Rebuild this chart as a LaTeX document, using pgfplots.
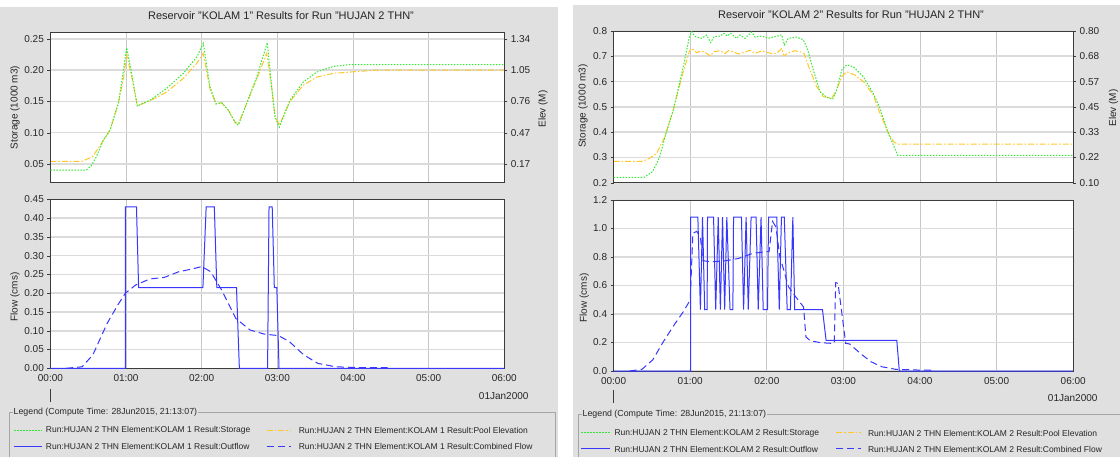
\documentclass[border=0pt]{standalone}
\usepackage{fontspec}
\setmainfont{Liberation Sans}
\usepackage{pgfplots}
\pgfplotsset{compat=1.18}

\definecolor{panel}{RGB}{224,224,224}
\definecolor{frame}{RGB}{60,60,60}
\definecolor{legline}{RGB}{165,165,165}
\definecolor{stor}{RGB}{50,235,50}
\definecolor{pool}{RGB}{255,200,40}
\definecolor{flow}{RGB}{55,55,255}

\tikzset{
  storage/.style={color=stor, line width=1pt, dash pattern=on 1.5pt off 1.5pt},
  poolelev/.style={color=pool, line width=1pt, dash pattern=on 6pt off 2pt on 1.5pt off 2pt},
  outflow/.style={color=flow, line width=1pt},
  combined/.style={color=flow, line width=1pt, dash pattern=on 7pt off 4pt},
  legtext/.style={anchor=west, inner sep=0pt, text=black!85, font=\fontsize{8.5}{10}\selectfont},
}
\pgfplotsset{
  hms/.style={
    scale only axis, anchor=south west,
    xmin=0, xmax=6, xtick={0,1,2,3,4,5,6},
    tick align=outside, major tick length=3pt,
    axis line style={frame}, ytick style={frame},
    xtick style={draw=none},
    tick label style={font=\fontsize{10}{12}\selectfont, text=black!85},
    /pgf/number format/assume math mode=true,
    clip=false,
  },
  gridded/.style={
    axis background/.style={fill=white},
    xmajorgrids, ymajorgrids,
    every axis x grid/.append style={black!22, line width=0.8pt},
    every axis y grid/.append style={black!14, line width=1.6pt},
  },
  notime/.style={xticklabels={}},
  time/.style={xticklabels={00:00,01:00,02:00,03:00,04:00,05:00,06:00}},
}

\begin{document}
\fontsize{10}{12}\selectfont
\begin{tikzpicture}[x=1pt,y=1pt]
\path[use as bounding box] (0,0) rectangle (1120,-457);
\fill[white] (0,0) rectangle (1120,-457);
\fill[panel] (0,-7) rectangle (558,-457);
\fill[panel] (573,-5) rectangle (1120,-457);

% legend frames and samples
\draw[legline] (9.6,-460) -- (9.6,-412.3) -- (555.4,-412.3) -- (555.4,-460);
\draw[legline] (577.9,-460) -- (577.9,-414.5) -- (1125,-414.5);
\draw[storage] (14.3,-430) -- (41.8,-430);
\draw[poolelev] (266.8,-430) -- (291,-430);
\draw[outflow] (14.3,-446) -- (41.8,-446);
\draw[combined] (266.8,-446) -- (291,-446);
\draw[storage] (581,-432) -- (610,-432);
\draw[poolelev] (836,-432) -- (860.7,-432);
\draw[outflow] (581,-448) -- (610,-448);
\draw[combined] (836,-448) -- (860.7,-448);

% ---------------- KOLAM 1 ----------------
\node[font=\fontsize{11}{13}\selectfont, text=black!85] at (281,-15.5) {Reservoir "KOLAM 1" Results for Run "HUJAN 2 THN"};

% elevation (right)
\begin{axis}[hms, gridded, notime, at={(50.4pt,-182.7pt)}, width=453.9pt, height=150pt,
  ymin=-0.0055, ymax=1.3985,
  ytick={0.17,0.4625,0.755,1.0475,1.34}, yticklabels={0.17,0.47,0.76,1.05,1.34},
  ytick pos=right, yticklabel pos=right]
\addplot[poolelev] coordinates {
 (0,0.195) (0.42,0.195) (0.56,0.240) (0.70,0.392) (0.788,0.486) (0.898,0.737)
 (0.97,0.989) (1.008,1.188) (1.074,0.989) (1.149,0.714) (1.317,0.761) (1.537,0.843)
 (1.757,0.971) (1.934,1.112) (2.021,1.205) (2.11,0.872) (2.189,0.732) (2.264,0.743)
 (2.352,0.673) (2.44,0.562) (2.484,0.544) (2.595,0.737) (2.727,0.966) (2.86,1.205)
 (2.925,0.890) (2.969,0.620) (3.026,0.533) (3.167,0.755) (3.343,0.907) (3.52,0.983)
 (3.74,1.018) (3.96,1.030) (4.3,1.0475) (6,1.0475)};
\end{axis}
% storage (left)
\begin{axis}[hms, notime, at={(50.4pt,-182.7pt)}, width=453.9pt, height=150pt,
  ymin=0.02, ymax=0.26, ytick={0.05,0.10,0.15,0.20,0.25},
  yticklabel style={/pgf/number format/.cd, fixed, fixed zerofill, precision=2},
  ytick pos=left]
\addplot[storage] coordinates {
 (0,0.04) (0.47,0.04) (0.54,0.047) (0.61,0.062) (0.70,0.088) (0.788,0.104) (0.898,0.147)
 (0.96,0.195) (1.008,0.236) (1.074,0.195) (1.149,0.143) (1.317,0.152) (1.537,0.171)
 (1.757,0.195) (1.934,0.221) (2.021,0.243) (2.11,0.173) (2.189,0.146) (2.264,0.148)
 (2.352,0.136) (2.44,0.117) (2.484,0.112) (2.595,0.147) (2.727,0.189) (2.867,0.244)
 (2.925,0.173) (2.969,0.125) (3.026,0.109) (3.167,0.152) (3.343,0.181) (3.52,0.197)
 (3.74,0.206) (3.96,0.209) (6,0.209)};
\end{axis}
\node[rotate=90, text=black!85] at (15,-107.5) {Storage (1000 m3)};
\node[rotate=90, text=black!85] at (543,-109) {Elev (M)};

% flow
\begin{axis}[hms, gridded, time, at={(50.4pt,-368.3pt)}, width=453.9pt, height=169pt,
  ymin=0, ymax=0.45,
  ytick={0,0.05,0.10,0.15,0.20,0.25,0.30,0.35,0.40,0.45},
  yticklabel style={/pgf/number format/.cd, fixed, fixed zerofill, precision=2},
  ytick pos=left]
\addplot[outflow] coordinates {
 (0,0) (0.991,0) (0.991,0.43) (1.138,0.43) (1.166,0.215) (2.016,0.215) (2.059,0.43)
 (2.167,0.43) (2.20,0.215) (2.46,0.215) (2.498,0) (2.871,0) (2.89,0.43) (2.932,0.43)
 (2.96,0.215) (2.993,0.215) (3.022,0) (6,0)};
\addplot[combined] coordinates {
 (0.208,0) (0.42,0.004) (0.562,0.036) (0.751,0.12) (0.892,0.169) (0.991,0.20)
 (1.128,0.222) (1.317,0.238) (1.506,0.242) (1.695,0.257) (1.884,0.265) (2.002,0.271)
 (2.12,0.257) (2.262,0.209) (2.45,0.133) (2.639,0.102) (2.828,0.091) (3.017,0.087)
 (3.159,0.071) (3.348,0.036) (3.536,0.013) (3.772,0.004) (4.056,0.002) (4.457,0.002)};
\end{axis}
\node[rotate=90, text=black!85] at (15,-297) {Flow (cms)};
\node[anchor=east, text=black!85] at (532,-395.7) {01Jan2000};
\draw[frame] (50.4,-389) -- (50.4,-402);

% ---------------- KOLAM 2 ----------------
\node[font=\fontsize{11}{13}\selectfont, text=black!85] at (851,-15) {Reservoir "KOLAM 2" Results for Run "HUJAN 2 THN"};

\begin{axis}[hms, gridded, notime, at={(613.6pt,-182.7pt)}, width=459.6pt, height=151.7pt,
  ymin=0.10, ymax=0.80,
  ytick={0.10,0.216667,0.333333,0.45,0.566667,0.683333,0.80},
  yticklabels={0.10,0.22,0.33,0.45,0.57,0.68,0.80},
  ytick pos=right, yticklabel pos=right]
\addplot[poolelev] coordinates {
 (0,0.198) (0.37,0.198) (0.46,0.211) (0.56,0.235) (0.67,0.312) (0.78,0.438) (0.91,0.613)
 (0.99,0.707) (1.02,0.720) (1.085,0.700) (1.150,0.709) (1.215,0.696) (1.267,0.685)
 (1.302,0.704) (1.389,0.709) (1.454,0.696) (1.498,0.709) (1.563,0.704) (1.628,0.694)
 (1.694,0.700) (1.781,0.711) (1.846,0.696) (1.933,0.709) (2.020,0.700) (2.085,0.694)
 (2.151,0.704) (2.194,0.720) (2.225,0.685) (2.281,0.700) (2.368,0.709) (2.434,0.704)
 (2.486,0.696) (2.564,0.620) (2.651,0.543) (2.738,0.497) (2.847,0.490) (2.912,0.528)
 (2.978,0.589) (3.043,0.612) (3.151,0.597) (3.260,0.567) (3.390,0.505) (3.47,0.427)
 (3.58,0.333) (3.66,0.287) (3.71,0.2785) (6,0.2785)};
\end{axis}
\begin{axis}[hms, notime, at={(613.6pt,-182.7pt)}, width=459.6pt, height=151.7pt,
  ymin=0.2, ymax=0.8, ytick={0.2,0.3,0.4,0.5,0.6,0.7,0.8},
  yticklabel style={/pgf/number format/.cd, fixed, fixed zerofill, precision=1},
  ytick pos=left]
\addplot[storage] coordinates {
 (0,0.221) (0.40,0.221) (0.51,0.244) (0.60,0.30) (0.671,0.382) (0.78,0.488) (0.91,0.659)
 (0.99,0.778) (1.02,0.797) (1.063,0.778) (1.150,0.771) (1.215,0.784) (1.267,0.754)
 (1.311,0.778) (1.389,0.780) (1.441,0.791) (1.485,0.780) (1.528,0.791) (1.607,0.771)
 (1.650,0.784) (1.715,0.771) (1.803,0.796) (1.846,0.776) (1.933,0.780) (2.020,0.771)
 (2.085,0.776) (2.138,0.780) (2.194,0.785) (2.229,0.745) (2.281,0.771) (2.390,0.776)
 (2.477,0.765) (2.529,0.731) (2.607,0.646) (2.695,0.560) (2.782,0.538) (2.860,0.530)
 (2.912,0.567) (2.978,0.646) (3.043,0.666) (3.129,0.659) (3.260,0.619) (3.390,0.553)
 (3.47,0.50) (3.58,0.40) (3.71,0.308) (6,0.308)};
\end{axis}
\node[rotate=90, text=black!85] at (583,-106) {Storage (1000 m3)};
\node[rotate=90, text=black!85] at (1113.6,-108) {Elev (M)};

\begin{axis}[hms, gridded, time, at={(613.6pt,-371pt)}, width=459.6pt, height=171pt,
  ymin=0, ymax=1.2, ytick={0,0.2,0.4,0.6,0.8,1.0,1.2},
  yticklabel style={/pgf/number format/.cd, fixed, fixed zerofill, precision=1},
  ytick pos=left]
\addplot[outflow] coordinates {
 (0,0) (1.007,0) (1.007,1.08) (1.10,1.08) (1.133,0.43) (1.161,1.08) (1.189,0.43)
 (1.221,0.43) (1.226,1.08) (1.305,1.08) (1.333,0.43) (1.366,1.08) (1.394,0.43)
 (1.422,1.08) (1.45,0.43) (1.478,1.08) (1.52,0.43) (1.557,0.43) (1.566,1.08)
 (1.669,1.08) (1.697,0.43) (1.73,1.08) (1.758,0.43) (1.795,1.08) (1.86,1.08)
 (1.888,0.43) (1.925,1.08) (1.953,0.43) (2.009,0.43) (2.023,1.08) (2.13,1.08)
 (2.163,0.43) (2.191,1.08) (2.228,1.08) (2.266,0.43) (2.308,0.43) (2.34,1.08)
 (2.364,0.43) (2.727,0.43) (2.774,0.215) (3.697,0.215) (3.73,0) (6,0)};
\addplot[combined] coordinates {
 (0.21,0) (0.37,0.012) (0.51,0.077) (0.65,0.206) (0.79,0.323) (0.91,0.416) (1.0,0.498)
 (1.035,0.966) (1.086,0.98) (1.133,0.94) (1.166,0.774) (1.26,0.767) (1.445,0.772)
 (1.632,0.79) (1.82,0.826) (2.0,0.837) (2.03,0.837) (2.075,1.05) (2.12,1.01) (2.17,0.80)
 (2.215,0.72) (2.284,0.59) (2.378,0.52) (2.46,0.463) (2.48,0.45) (2.51,0.24) (2.564,0.213)
 (2.7,0.199) (2.844,0.194) (2.88,0.194) (2.9,0.62) (2.93,0.615) (2.98,0.405) (3.03,0.194)
 (3.08,0.19) (3.22,0.124) (3.36,0.065) (3.50,0.03) (3.68,0.012) (3.96,0.007) (4.17,0.005)};
\end{axis}
\node[rotate=90, text=black!85] at (584.3,-298) {Flow (cms)};
\node[anchor=east, text=black!85] at (1101,-398.3) {01Jan2000};
\draw[frame] (613.6,-390) -- (613.6,-403);

% legend texts
\node[anchor=west, fill=panel, inner xsep=1pt, inner ysep=0.5pt, text=black!85, font=\fontsize{8.8}{10}\selectfont] at (12.5,-412.3) {Legend (Compute Time: 28Jun2015, 21:13:07)};
\node[legtext] at (45.7,-430) {Run:HUJAN 2 THN Element:KOLAM 1 Result:Storage};
\node[legtext] at (298.6,-430) {Run:HUJAN 2 THN Element:KOLAM 1 Result:Pool Elevation};
\node[legtext] at (45.7,-446) {Run:HUJAN 2 THN Element:KOLAM 1 Result:Outflow};
\node[legtext] at (298.6,-446) {Run:HUJAN 2 THN Element:KOLAM 1 Result:Combined Flow};
\node[anchor=west, fill=panel, inner xsep=1pt, inner ysep=0.5pt, text=black!85, font=\fontsize{8.8}{10}\selectfont] at (581.5,-414.5) {Legend (Compute Time: 28Jun2015, 21:13:07)};
\node[legtext] at (614.3,-433) {Run:HUJAN 2 THN Element:KOLAM 2 Result:Storage};
\node[legtext] at (867.9,-433) {Run:HUJAN 2 THN Element:KOLAM 2 Result:Pool Elevation};
\node[legtext] at (614.3,-449) {Run:HUJAN 2 THN Element:KOLAM 2 Result:Outflow};
\node[legtext] at (867.9,-449) {Run:HUJAN 2 THN Element:KOLAM 2 Result:Combined Flow};
\end{tikzpicture}
\end{document}
